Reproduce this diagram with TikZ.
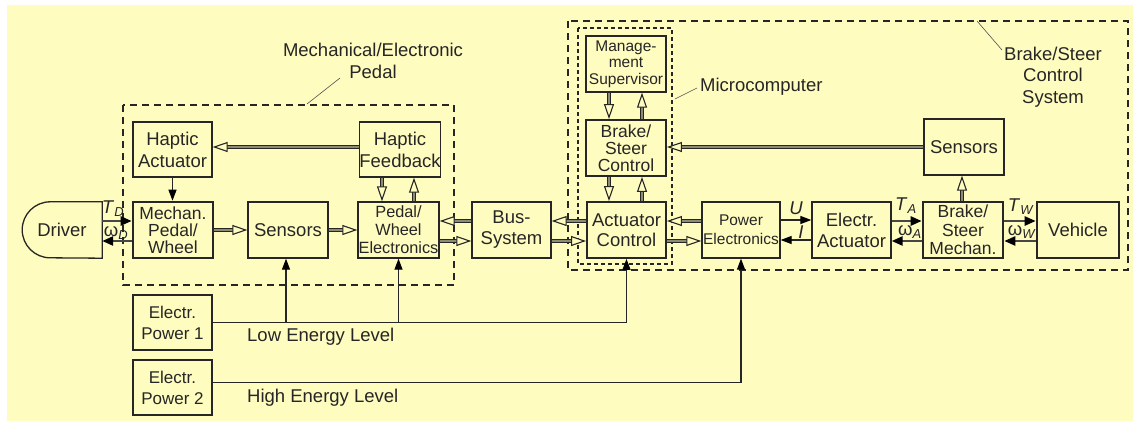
\documentclass[tikz,border=0pt]{standalone}
\usepackage{fontspec}
\setmainfont{Liberation Sans}
\usetikzlibrary{arrows.meta,calc}
\definecolor{bg}{HTML}{FFFCC0}
\definecolor{ink}{HTML}{262626}
\definecolor{mid}{HTML}{8C8C72}
\begin{document}
\begin{tikzpicture}[x=1pt,y=-1pt,
  every node/.style={text=ink, font=\fontsize{18.5}{21}\selectfont, inner sep=0pt},
  blk/.style={draw=ink, line width=1.3pt, minimum width=80pt, minimum height=56pt, inner sep=0pt, align=center},
  thk/.style={blk, line width=2.6pt},
  med/.style={blk, line width=1.8pt},
  three/.style={font=\fontsize{17.5}{17}\selectfont},
  small/.style={font=\fontsize{15.5}{19}\selectfont},
  hol/.style={draw=mid, line width=2.2pt,
    preaction={draw=ink, line width=4.6pt, shorten >=13pt, arrows=-},
    -{Triangle[length=15pt,width=10pt,color=ink,fill=bg,line width=1.1pt]}},
  sig/.style={draw=ink!85, line width=2.4pt, -{Triangle[length=11pt,width=9pt,color=black]}},
  thinarr/.style={draw=ink, line width=1.2pt, -{Triangle[length=11pt,width=8pt,color=black]}},
  dsh/.style={draw=ink, line width=1.3pt, dash pattern=on 7pt off 5pt},
  dshs/.style={draw=ink, line width=1.1pt, dash pattern=on 4pt off 3pt},
  leader/.style={draw=ink!80, line width=0.6pt},
  lbl/.style={inner sep=0pt}
]
\fill[bg] (7,5) rectangle (1133,421);
\path[use as bounding box] (0,0) rectangle (1133,421);

% dashed groups
\draw[dsh] (123,105) rectangle (454,285);
\draw[dsh] (568,21) rectangle (1128,270);
\draw[dshs] (578,28) rectangle (672,264);

% group labels
\node[align=center, font=\fontsize{18.5}{22}\selectfont] (lped) at (373,61) {Mechanical/Electronic\\Pedal};
\node[anchor=west] (lmic) at (700,87) {Microcomputer};
\node[align=center, font=\fontsize{18.5}{21.5}\selectfont] (lbs) at (1053,77) {Brake/Steer\\Control\\System};
\coordinate (c1) at (307,104);
\coordinate (c2) at (675,99);
\coordinate (c3) at (977,21);
\draw[leader] (c1) -- (340,78);
\draw[leader] (c2) -- (697,88);
\draw[leader] (c3) -- (1002,50);

% driver
\node[minimum width=80pt, minimum height=56pt] (drv) at (62,230) {Driver};
\draw[ink, line width=1.3pt] (drv.north east) -- ++(-52pt,0pt) arc[start angle=90,end angle=270,radius=28pt] -- (drv.south east) -- cycle;

% main row
\node[thk, three] (mech) at (173,230) {Mechan.\\Pedal/\\Wheel};
\node[blk] (sens) at (288,230) {Sensors};
\node[blk, minimum width=81pt, font=\fontsize{16.3}{18}\selectfont] (pwe) at (398.5,230) {Pedal/\\Wheel\\Electronics};
\node[blk, minimum width=79pt] (bus) at (511.5,230) {Bus-\\System};
\node[med, minimum width=79pt, font=\fontsize{18.5}{20}\selectfont] (act) at (626.5,230) {Actuator\\Control};
\node[blk, minimum width=78pt, small] (pe) at (741,230) {Power\\Electronics};
\node[blk, minimum width=79pt] (ea) at (851.5,230) {Electr.\\Actuator};
\node[thk, three, font=\fontsize{17.5}{18.5}\selectfont] (bsm) at (963,230) {Brake/\\Steer\\Mechan.};
\node[thk, minimum width=82pt] (veh) at (1078,230) {Vehicle};

% upper row
\node[blk, minimum width=79pt, minimum height=55pt, font=\fontsize{18.5}{22}\selectfont] (ha) at (172.5,149.5) {Haptic\\Actuator};
\node[blk, minimum height=55pt, font=\fontsize{18.5}{22}\selectfont] (hf) at (400,149.5) {Haptic\\Feedback};
\node[blk, font=\fontsize{15.5}{16.5}\selectfont] (ms) at (626,64) {Manage-\\ment\\Supervisor};
\node[med, three] (bsc) at (626,148) {Brake/\\Steer\\Control};
\node[blk] (sens2) at (964,147) {Sensors};

% power
\node[blk, minimum width=79pt, minimum height=55pt, font=\fontsize{17}{21}\selectfont] (p1) at (172.5,322.5) {Electr.\\Power 1};
\node[blk, minimum width=79pt, minimum height=55pt, font=\fontsize{17}{21}\selectfont] (p2) at (172.5,387.5) {Electr.\\Power 2};
\node[anchor=west] (low) at (247,337) {Low Energy Level};
\node[anchor=west] (high) at (247,398) {High Energy Level};

% connectors: driver/mech
\draw[sig] ([yshift=9pt]drv.east) -- ([yshift=9pt]mech.west);
\draw[sig] ([yshift=-11pt]mech.west) -- ([yshift=-11pt]drv.east);
\draw[thinarr] (ha.south) -- (ha.south |- mech.north);
\draw[hol] ([yshift=2.5pt]hf.west) -- ([yshift=2.5pt]ha.east);
\draw[hol] (mech.east) -- (sens.west);
\draw[hol] (sens.east) -- (pwe.west);
\draw[hol] ([xshift=-18pt]hf.south) -- ([xshift=-18pt]hf.south |- pwe.north);
\draw[hol] ([xshift=14pt]hf.south |- pwe.north) -- ([xshift=14pt]hf.south);
\draw[hol] ([yshift=9pt]bus.west) -- ([yshift=9pt]pwe.east);
\draw[hol] ([yshift=-11pt]pwe.east) -- ([yshift=-11pt]bus.west);
\draw[hol] ([yshift=9pt]act.west) -- ([yshift=9pt]bus.east);
\draw[hol] ([yshift=-11pt]bus.east) -- ([yshift=-11pt]act.west);
\draw[hol] ([xshift=-17pt]ms.south) -- ([xshift=-17pt]bsc.north);
\draw[hol] ([xshift=16pt]bsc.north) -- ([xshift=16pt]ms.south);
\draw[hol] ([xshift=-17pt]bsc.south) -- ([xshift=-17pt]bsc.south |- act.north);
\draw[hol] ([xshift=16pt]bsc.south |- act.north) -- ([xshift=16pt]bsc.south);
\draw[hol] (sens2.west) -- (sens2.west -| bsc.east);
\draw[hol] ([xshift=-1pt]bsm.north) -- ([xshift=-1pt]bsm.north |- sens2.south);
\draw[hol] ([yshift=9pt]pe.west) -- ([yshift=9pt]act.east);
\draw[hol] ([yshift=-11pt]act.east) -- ([yshift=-11pt]pe.west);
\draw[thinarr] ([yshift=10pt]pe.east) -- ([yshift=10pt]ea.west);
\draw[thinarr] ([yshift=-10pt]ea.west) -- ([yshift=-10pt]pe.east);
\draw[sig] ([yshift=9pt]ea.east) -- ([yshift=9pt]bsm.west);
\draw[sig] ([yshift=-11pt]bsm.west) -- ([yshift=-11pt]ea.east);
\draw[sig] ([yshift=9pt]bsm.east) -- ([yshift=9pt]veh.west);
\draw[sig] ([yshift=-11pt]veh.west) -- ([yshift=-11pt]bsm.east);

% power lines
\draw[thinarr] (p1.east) -| (act.south);
\draw[thinarr] ([xshift=-2pt]p1.east -| sens.south) -- ([xshift=-2pt]sens.south);
\draw[thinarr] (p1.east -| pwe.south) -- (pwe.south);
\draw[thinarr] ([yshift=5pt]p2.east) -| (pe.south);

% signal labels
\node[lbl] (td) at (113,209) {\textit{T}\textsubscript{\textit{D}}};
\node[lbl] (wd) at (116,233) {ω\textsubscript{\textit{D}}};
\node[lbl] (u) at (796,208) {\textit{U}};
\node[lbl] (i) at (801,232) {\textit{I}};
\node[lbl] (ta) at (906,206) {\textit{T}\textsubscript{\textit{A}}};
\node[lbl] (wa) at (910,232) {ω\textsubscript{\textit{A}}};
\node[lbl] (tw) at (1021,207) {\textit{T}\textsubscript{\textit{W}}};
\node[lbl] (ww) at (1022,232) {ω\textsubscript{\textit{W}}};
\end{tikzpicture}
\end{document}
